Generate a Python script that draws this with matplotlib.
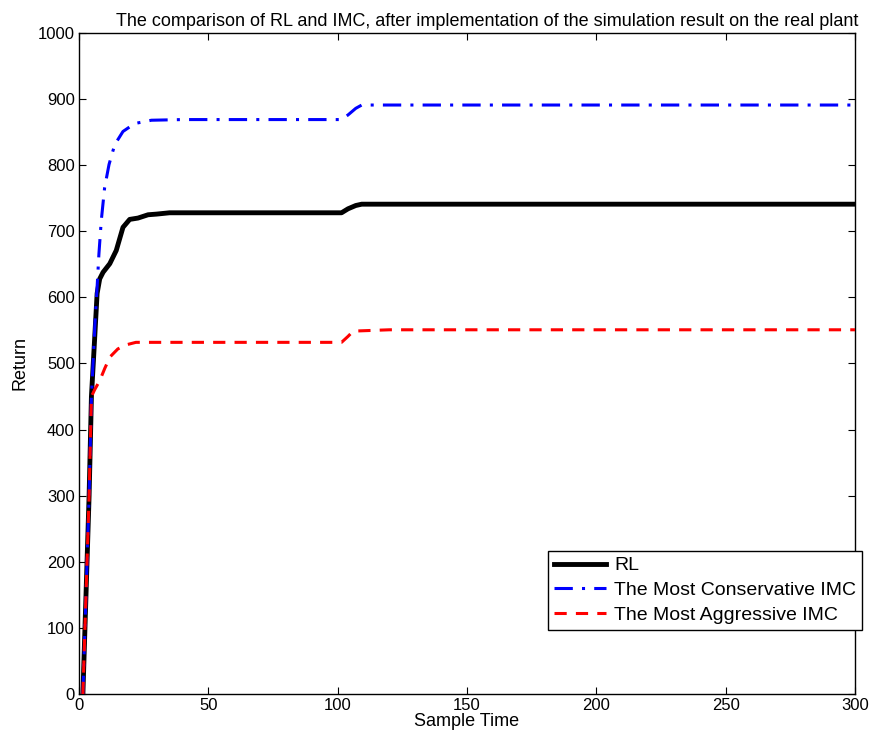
import matplotlib
matplotlib.use("Agg")
import matplotlib.pyplot as plt

plt.rcParams['font.family'] = ['Liberation Sans', 'DejaVu Sans']

# Values
rl_x = [1.5, 3.9, 4.8, 6.3, 7.0, 8.0, 9.3, 11.9, 14.4, 17.0, 19.6, 22.8, 26.7, 30, 35, 101.5, 104, 107, 109.3, 300]
rl_y = [0, 300, 450, 556, 606, 628, 638, 651, 671, 706, 718, 720, 725, 726, 728, 728, 734, 739, 741, 741]

cons_x = [1.5, 3.9, 4.8, 6.1, 7.0, 7.7, 8.6, 9.9, 11.6, 13.8, 17.0, 21.5, 28, 40, 101.5, 104, 107, 109.3, 300]
cons_y = [0, 300, 450, 556, 616, 666, 716, 766, 801, 831, 851, 863, 868, 869, 869, 876, 886, 891, 891]

aggr_x = [1.5, 3.9, 4.8, 6.0, 8.0, 10.0, 12.0, 15.0, 18.0, 22.0, 101.5, 104, 106, 120, 300]
aggr_y = [0, 300, 450, 460, 474, 493, 510, 522, 528, 532, 532, 541, 549, 551, 551]

labels = ["RL", "The Most Conservative IMC", "The Most Aggressive IMC"]

fig = plt.figure(figsize=(8.76, 7.41), dpi=100)
ax = fig.add_axes([0.0902, 0.0634, 0.8858, 0.8921])

ax.plot(rl_x, rl_y, color="black", lw=3.5, label=labels[0], zorder=3)
ax.plot(cons_x, cons_y, color="blue", lw=2.2, ls=(0, (6, 3, 1, 3)), label=labels[1], zorder=4)
ax.plot(aggr_x, aggr_y, color="red", lw=2.2, ls=(0, (4, 3)), label=labels[2], zorder=5)

ax.set_xlim(0, 300)
ax.set_ylim(0, 1000)
ax.set_xticks(range(0, 301, 50))
ax.set_yticks(range(0, 1001, 100))
ax.tick_params(direction="in", top=True, right=True, labelsize=12, length=5, pad=3)
for s in ax.spines.values():
    s.set_linewidth(1.0)

ax.set_xlabel("Sample Time", fontsize=13, labelpad=0)
ax.set_ylabel("Return", fontsize=13, labelpad=7)
ax.set_title("The comparison of RL and IMC, after implementation of the simulation result on the real plant",
             fontsize=13, pad=5, x=0.526)

leg = ax.legend(loc="upper left", bbox_to_anchor=(548 / 876, 1 - 551 / 741),
                bbox_transform=fig.transFigure, fontsize=14, fancybox=False,
                edgecolor="black", framealpha=1, handlelength=2.7, borderaxespad=0,
                labelspacing=0.36, borderpad=0.3, handletextpad=0.4)
leg.get_frame().set_linewidth(1.0)

fig.savefig("out.png", dpi=100)
